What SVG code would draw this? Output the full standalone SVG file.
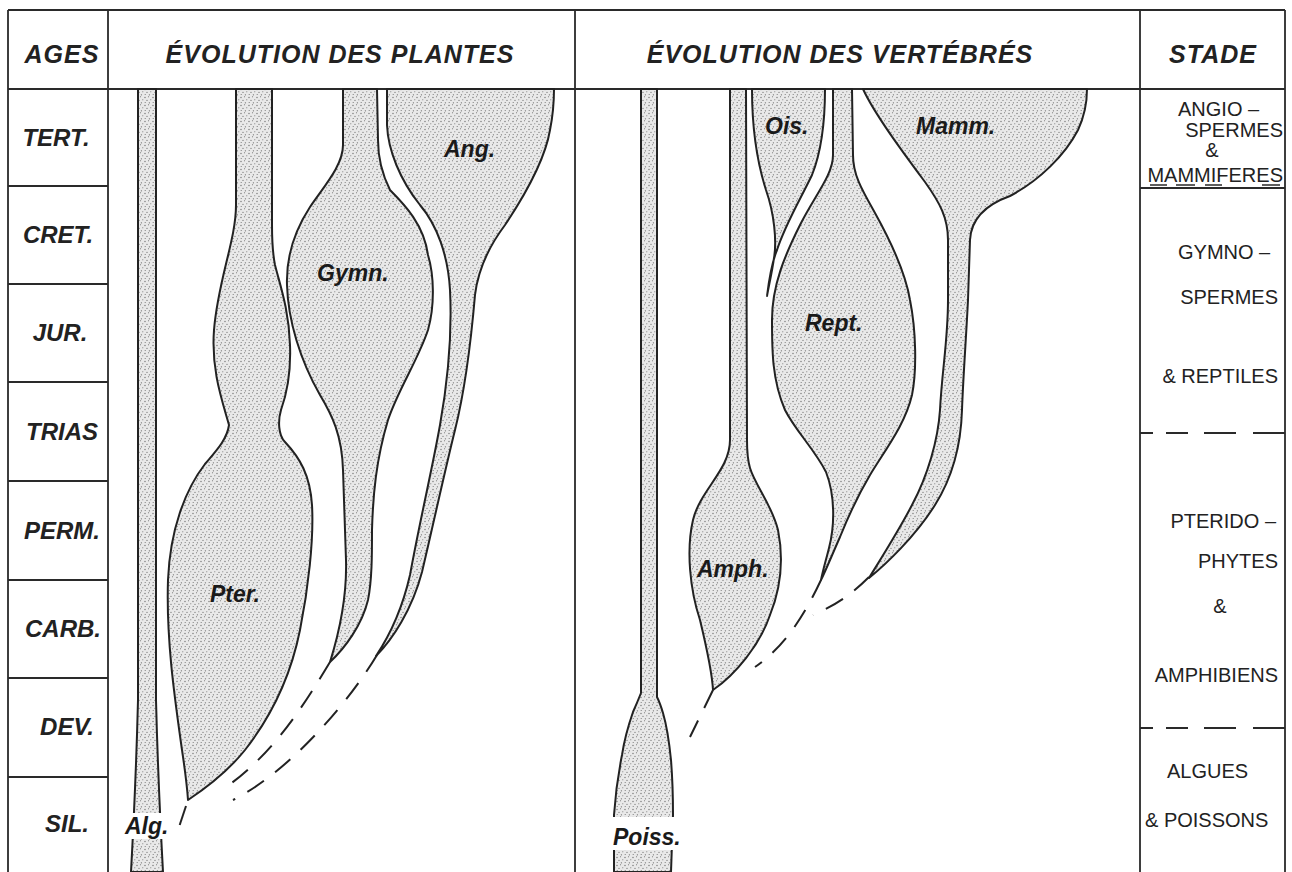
<svg xmlns="http://www.w3.org/2000/svg" width="1292" height="872" viewBox="0 0 1292 872">
<defs>
<pattern id="stip" width="8" height="8" patternUnits="userSpaceOnUse">
<rect width="8" height="8" fill="#e9e9e9"/>
<g fill="#6e6e6e"><circle cx="1" cy="1.5" r=".65"/><circle cx="4.5" cy="0.8" r=".55"/><circle cx="3" cy="4.3" r=".65"/><circle cx="6.8" cy="3.8" r=".55"/><circle cx="1.2" cy="6.5" r=".55"/><circle cx="5.4" cy="6.8" r=".65"/></g>
</pattern>
</defs>
<style>
.frame{stroke:#2a2a2a;stroke-width:1.8;fill:none}
.shape{fill:url(#stip);stroke:#222;stroke-width:2;stroke-linejoin:round}
.dash{fill:none;stroke:#222;stroke-width:2;stroke-dasharray:20 14}
.hd{font-family:"Liberation Sans",Arial,sans-serif;font-weight:bold;font-style:italic;font-size:25px;letter-spacing:1px;fill:#222}
.age{font-family:"Liberation Sans",Arial,sans-serif;font-weight:bold;font-style:italic;font-size:24px;fill:#222;text-anchor:middle}
.lb{font-family:"Liberation Sans",Arial,sans-serif;font-weight:bold;font-style:italic;font-size:23px;fill:#1a1a1a}
.st{font-family:"Liberation Sans",Arial,sans-serif;font-size:20px;fill:#222}
</style>
<rect width="1292" height="872" fill="#fff"/>

<g id="frame" class="frame">
<path d="M8,10 H1285 M8,89 H1285 M8,10 V872 M108,10 V872 M575,10 V872 M1140,10 V872 M1285,10 V872"/>
<path d="M8,186 H108 M8,284 H108 M8,382 H108 M8,481 H108 M8,580 H108 M8,678 H108 M8,777 H108"/>
<path d="M1140,188 H1285"/>
<path d="M1150,185 H1167 M1176,185 H1195 M1205,185 H1222 M1262,185 H1280" stroke-width="1.5"/>
<path d="M1140,433 H1285 M1140,728 H1285" stroke-dasharray="13 13 22 16 32 17 34"/>
</g>

<g id="headers">
<text class="hd" x="62" y="63" text-anchor="middle">AGES</text>
<text class="hd" x="340" y="63" text-anchor="middle">ÉVOLUTION DES PLANTES</text>
<text class="hd" x="840" y="63" text-anchor="middle">ÉVOLUTION DES VERTÉBRÉS</text>
<text class="hd" x="1213" y="63" text-anchor="middle">STADE</text>
</g>

<g id="ages">
<text class="age" x="56" y="146">TERT.</text>
<text class="age" x="58" y="243">CRET.</text>
<text class="age" x="60" y="341">JUR.</text>
<text class="age" x="62" y="440">TRIAS</text>
<text class="age" x="62" y="539">PERM.</text>
<text class="age" x="63" y="637">CARB.</text>
<text class="age" x="67" y="735">DEV.</text>
<text class="age" x="67" y="832">SIL.</text>
</g>

<g id="stade">
<text class="st" x="1178" y="116">ANGIO –</text>
<text class="st" x="1283" y="137" text-anchor="end">SPERMES</text>
<text class="st" x="1212" y="157" text-anchor="middle" font-size="18">&amp;</text>
<text class="st" x="1283" y="182" text-anchor="end">MAMMIFERES</text>
<text class="st" x="1178" y="259">GYMNO –</text>
<text class="st" x="1278" y="304" text-anchor="end">SPERMES</text>
<text class="st" x="1278" y="383" text-anchor="end">&amp; REPTILES</text>
<text class="st" x="1276" y="528" text-anchor="end">PTERIDO –</text>
<text class="st" x="1278" y="568" text-anchor="end">PHYTES</text>
<text class="st" x="1220" y="613" text-anchor="middle">&amp;</text>
<text class="st" x="1278" y="682" text-anchor="end">AMPHIBIENS</text>
<text class="st" x="1167" y="778">ALGUES</text>
<text class="st" x="1145" y="827">&amp; POISSONS</text>
</g>

<g id="alg">
<path class="shape" d="M138,89 L138,700 Q136,780 131,872 L163,872 Q158,780 156,700 L156,89 Z"/>
<rect x="121" y="813" width="54" height="26" fill="#fff"/>
<text class="lb" x="125" y="834">Alg.</text>
</g>

<g id="pter">
<path class="shape" d="M236,89 L236,205 C236,240 218,280 214,330 C211,370 222,400 229,425 C227,440 215,452 205,464 C185,490 170,530 168,580 C166,640 175,700 182,750 C185,770 187,785 188,800 C200,792 225,775 245,750 C270,718 290,680 300,630 C308,590 314,540 312,505 C310,475 300,458 285,442 C278,435 278,420 281,410 C287,393 291,370 290,345 C289,310 280,285 275,265 C272,250 272,240 272,225 L272,89 Z"/>
<text class="lb" x="210" y="602">Pter.</text>
</g>

<g id="gymn">
<path class="shape" d="M343,89 L343,145 C343,165 325,185 310,207 C295,230 286,255 287,285 C288,320 300,360 320,395 C332,415 342,435 343,470 L346,560 C347,595 340,630 330,662 C345,648 362,625 368,600 C372,580 372,555 372,530 C373,495 376,460 388,420 C398,390 418,360 428,330 C435,305 434,275 428,255 C424,225 405,205 390,190 C380,170 378,155 378,140 L377,89 Z"/>
<text class="lb" x="317" y="281">Gymn.</text>
</g>

<g id="ang">
<path class="shape" d="M387,89 L387,125 C388,150 400,180 420,205 C437,225 448,255 450,290 C452,330 448,380 440,425 C432,470 420,520 410,575 C402,610 390,635 376,656 C392,640 412,610 422,572 C432,530 445,470 455,430 C465,390 472,330 475,295 C478,270 490,245 505,225 C525,195 545,160 550,130 C553,115 554,100 554,89 Z"/>
<text class="lb" x="444" y="157">Ang.</text>
</g>

<g id="poiss">
<path class="shape" d="M641,89 L641,693 Q637,703 633,712 Q625,735 622,755 Q616,785 614,815 L614,872 L671,872 L673,815 Q673,785 671,760 Q668,730 663,713 Q660,703 657,697 L657,89 Z"/>
<rect x="609" y="817" width="78" height="33" fill="#fff"/>
<text class="lb" x="613" y="845">Poiss.</text>
</g>

<g id="amph">
<path class="shape" d="M730,89 L730,440 C730,470 700,490 693,520 C686,550 690,590 700,620 C706,645 712,670 713,690 C735,675 760,645 770,615 C780,590 784,560 778,530 C772,505 755,485 750,468 C747,458 747,450 747,440 L746,89 Z"/>
<text class="lb" x="697" y="577">Amph.</text>
</g>

<g id="ois">
<path class="shape" d="M752,89 C752,130 758,165 766,190 C774,213 777,240 774,258 C772,272 769,285 767,296 C769,280 772,262 777,250 C785,225 800,200 812,175 C820,155 825,125 825,89 Z"/>
<text class="lb" x="765" y="134">Ois.</text>
</g>

<g id="rept">
<path class="shape" d="M833,89 L833,155 C833,175 815,195 800,225 C785,255 772,285 772,320 C772,350 772,380 785,410 C795,430 815,450 826,472 C835,495 835,525 829,548 C826,560 823,570 821,580 C826,570 832,555 840,537 C850,512 860,492 870,475 C885,450 905,425 912,395 C917,370 916,330 910,300 C905,270 890,240 875,213 C862,190 853,175 853,155 L852,89 Z"/>
<text class="lb" x="805" y="331">Rept.</text>
</g>

<g id="mamm">
<path class="shape" d="M863,89 C875,115 905,155 925,182 C940,203 948,218 948,240 L948,300 C948,340 942,370 940,410 C938,440 928,475 912,505 C898,532 880,560 869,578 C885,565 915,537 935,505 C952,478 961,445 962,410 C963,380 966,340 968,300 L970,240 C971,220 985,205 1010,196 C1040,180 1065,155 1078,130 C1085,115 1087,100 1087,89 Z"/>
<text class="lb" x="916" y="134">Mamm.</text>
</g>

<g id="connectors">
<path class="dash" d="M186,806 L177,833" stroke-dasharray="0 6 20 40"/>
<path class="dash" d="M330,662 C300,712 270,757 222,790"/>
<path class="dash" d="M377,655 C350,700 292,770 233,800"/>
<path class="dash" d="M713,690 L690,737" stroke-dasharray="16 10"/>
<path class="dash" d="M821,580 C806,612 786,646 755,667" stroke-dasharray="0 8 30 16 30"/>
<path class="dash" d="M869,577 C852,594 836,605 813,615"/>
</g>
</svg>
